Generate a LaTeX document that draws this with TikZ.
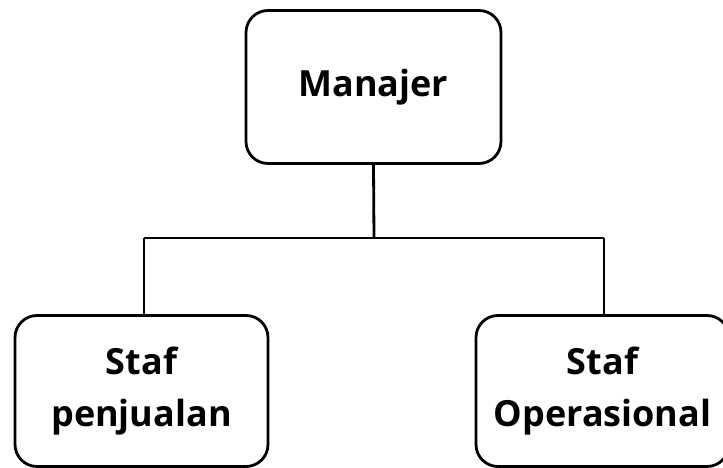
\documentclass[tikz,border=0pt]{standalone}
\usepackage{fontspec}
\setmainfont{Open Sans}
\begin{document}
\begin{tikzpicture}[x=1pt,y=-1pt,
  box/.style={draw=black, line width=2.8pt, rounded corners=22pt, fill=white, inner sep=0pt, align=center,
    font=\fontsize{36}{52}\selectfont\bfseries},
  conn/.style={line width=2.8pt}]
\useasboundingbox (0,0) rectangle (723,468);
\clip (0,0) rectangle (723,468);
\node[box, minimum width=255pt, minimum height=153pt] (m) at (373.5,87) {Manajer};
\node[box, minimum width=253pt, minimum height=151pt] (a) at (141.5,391) {Staf\\penjualan};
\node[box, minimum width=253pt, minimum height=151pt] (b) at (602.5,391) {Staf\\Operasional};
\coordinate (j) at (374,238);
\draw[conn] (m.south) -- (j);
\draw[conn] (144,238) -- (604,238);
\draw[conn] (144,238) -- (a.north -| 144,0);
\draw[conn] (604,238) -- (b.north -| 604,0);
\end{tikzpicture}
\end{document}
